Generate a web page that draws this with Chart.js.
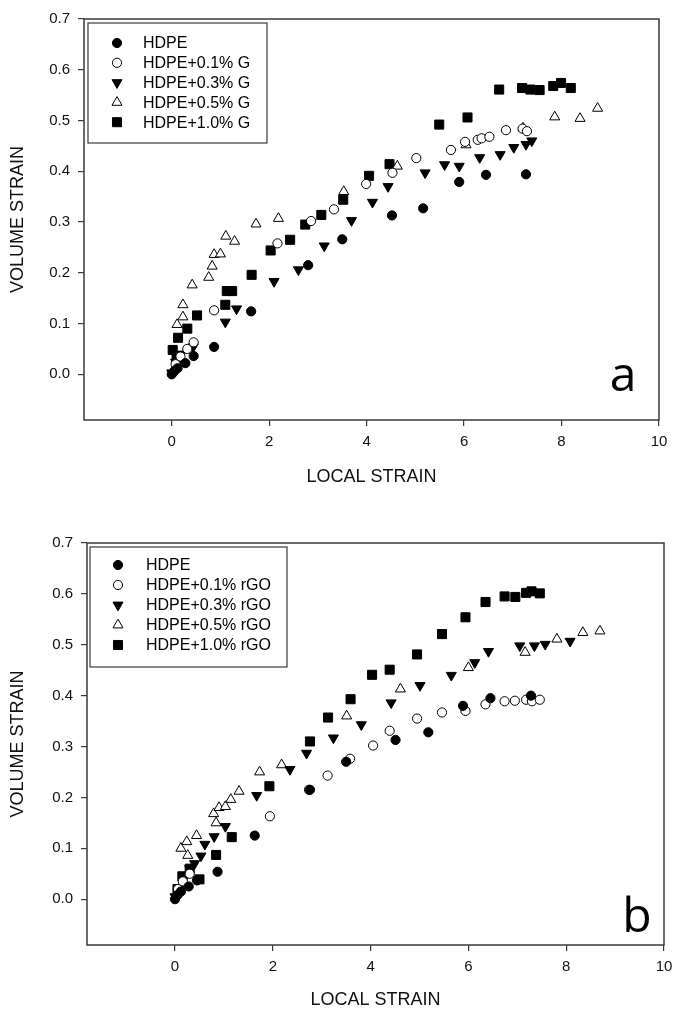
<!DOCTYPE html>
<html><head><meta charset="utf-8">
<script src="https://cdn.jsdelivr.net/npm/chart.js@4.4.1/dist/chart.umd.min.js"></script>
<style>html,body{margin:0;padding:0;background:#fff;}canvas{display:block;}</style>
</head><body>
<canvas id="ca" width="681" height="505"></canvas>
<canvas id="cb" width="681" height="506"></canvas>
<script>
// ---------- DATA ----------
const xTicks = [0, 2, 4, 6, 8, 10];
const yTicks = [0.0, 0.1, 0.2, 0.3, 0.4, 0.5, 0.6, 0.7];

const labelsA = ['HDPE', 'HDPE+0.1% G', 'HDPE+0.3% G', 'HDPE+0.5% G', 'HDPE+1.0% G'];
const labelsB = ['HDPE', 'HDPE+0.1% rGO', 'HDPE+0.3% rGO', 'HDPE+0.5% rGO', 'HDPE+1.0% rGO'];

// Panel a
const aHdpeX = [0, 0.05, 0.12, 0.28, 0.45, 0.87, 1.63, 2.8, 3.5, 4.52, 5.16, 5.9, 6.45, 7.27];
const aHdpeY = [0, 0.006, 0.012, 0.022, 0.036, 0.054, 0.124, 0.215, 0.266, 0.313, 0.327, 0.379, 0.393, 0.394];
const aG01X = [0.08, 0.18, 0.32, 0.45, 0.87, 2.17, 2.86, 3.33, 3.99, 4.53, 5.02, 5.73, 6.02, 6.28, 6.36, 6.52, 6.86, 7.2, 7.29];
const aG01Y = [0.02, 0.035, 0.05, 0.063, 0.126, 0.258, 0.302, 0.325, 0.375, 0.397, 0.426, 0.442, 0.458, 0.462, 0.465, 0.468, 0.481, 0.484, 0.479];
const aG03X = [0, 0.08, 0.2, 0.44, 1.1, 1.33, 2.1, 2.6, 3.13, 3.69, 4.12, 4.44, 5.2, 5.6, 5.9, 6.32, 6.74, 7.02, 7.27, 7.39];
const aG03Y = [0.003, 0.024, 0.04, 0.054, 0.103, 0.129, 0.183, 0.206, 0.253, 0.303, 0.339, 0.37, 0.397, 0.413, 0.41, 0.427, 0.433, 0.447, 0.453, 0.46];
const aG05X = [0.11, 0.23, 0.23, 0.42, 0.76, 0.83, 0.87, 1.0, 1.11, 1.29, 1.73, 2.19, 3.53, 4.63, 6.04, 7.21, 7.86, 8.38, 8.74];
const aG05Y = [0.098, 0.113, 0.137, 0.176, 0.191, 0.213, 0.236, 0.237, 0.272, 0.262, 0.296, 0.307, 0.36, 0.41, 0.452, 0.485, 0.507, 0.504, 0.524];
const aG10X = [0.02, 0.1, 0.13, 0.32, 0.52, 1.1, 1.13, 1.24, 1.64, 2.03, 2.43, 2.74, 3.07, 3.52, 4.05, 4.47, 5.49, 6.07, 6.72, 7.19, 7.36, 7.55, 7.83, 7.99, 8.19];
const aG10Y = [0.048, 0.03, 0.072, 0.09, 0.116, 0.137, 0.164, 0.164, 0.196, 0.244, 0.265, 0.295, 0.314, 0.344, 0.391, 0.414, 0.492, 0.506, 0.561, 0.564, 0.561, 0.56, 0.568, 0.574, 0.564];

// Panel b
const bHdpeX = [0, 0.05, 0.12, 0.28, 0.45, 0.87, 1.63, 2.76, 3.5, 4.51, 5.18, 5.89, 6.45, 7.28];
const bHdpeY = [0, 0.008, 0.015, 0.025, 0.037, 0.054, 0.125, 0.215, 0.27, 0.313, 0.328, 0.38, 0.395, 0.4];
const bR01X = [0.06, 0.16, 0.3, 1.94, 2.74, 3.12, 3.58, 4.05, 4.39, 4.95, 5.46, 5.94, 6.35, 6.74, 6.95, 7.18, 7.3, 7.46];
const bR01Y = [0.02, 0.035, 0.05, 0.163, 0.215, 0.243, 0.276, 0.302, 0.331, 0.355, 0.367, 0.37, 0.383, 0.389, 0.39, 0.392, 0.389, 0.392];
const bR03X = [0, 0.08, 0.18, 0.3, 0.4, 0.53, 0.61, 0.8, 1.03, 1.67, 2.35, 2.69, 3.24, 3.81, 4.42, 5.01, 5.65, 6.13, 6.41, 7.05, 7.35, 7.57, 8.08];
const bR03Y = [0.005, 0.02, 0.04, 0.06, 0.07, 0.085, 0.108, 0.123, 0.143, 0.204, 0.255, 0.287, 0.317, 0.343, 0.386, 0.42, 0.44, 0.465, 0.487, 0.498, 0.498, 0.501, 0.507];
const bR05X = [0.12, 0.24, 0.26, 0.44, 0.79, 0.84, 0.9, 1.03, 1.14, 1.31, 1.73, 2.18, 3.51, 4.61, 6.0, 7.16, 7.81, 8.34, 8.69];
const bR05Y = [0.1, 0.113, 0.086, 0.125, 0.168, 0.15, 0.18, 0.182, 0.196, 0.212, 0.25, 0.264, 0.36, 0.413, 0.455, 0.485, 0.511, 0.524, 0.527];
const bR10X = [0.05, 0.15, 0.3, 0.5, 0.84, 1.16, 1.93, 2.76, 3.13, 3.59, 4.03, 4.39, 4.95, 5.46, 5.94, 6.35, 6.74, 6.96, 7.18, 7.29, 7.46];
const bR10Y = [0.02, 0.045, 0.06, 0.039, 0.087, 0.122, 0.222, 0.31, 0.357, 0.393, 0.441, 0.451, 0.481, 0.521, 0.554, 0.584, 0.595, 0.594, 0.602, 0.605, 0.601];

// ---------- STYLE ----------
const FONT = '"Liberation Sans", Arial, sans-serif';
const AXC = '#3a3a3a';
const markers = [
  {pointStyle: 'circle',   radius: 4.6, bg: '#000', rot: 0},
  {pointStyle: 'circle',   radius: 4.6, bg: '#fff', rot: 0},
  {pointStyle: 'triangle', radius: 5.8, bg: '#000', rot: 180},
  {pointStyle: 'triangle', radius: 5.8, bg: '#fff', rot: 0},
  {pointStyle: 'rect',     radius: 6.4, bg: '#000', rot: 0}
];

function pts(xs, ys) { return xs.map((x, i) => ({x: x, y: ys[i]})); }

function makeDatasets(labels, series) {
  return series.map((s, i) => ({
    label: labels[i],
    data: pts(s[0], s[1]),
    pointStyle: markers[i].pointStyle,
    pointRadius: markers[i].radius,
    pointRotation: markers[i].rot,
    pointBackgroundColor: markers[i].bg,
    pointBorderColor: '#000',
    pointBorderWidth: 1,
    showLine: false
  }));
}

function drawMarker(ctx, m, x, y) {
  ctx.save();
  ctx.fillStyle = m.bg; ctx.strokeStyle = '#000'; ctx.lineWidth = 1;
  Chart.helpers.drawPoint(ctx, {pointStyle: m.pointStyle, rotation: m.rot, radius: m.radius, borderWidth: 1}, x, y);
  ctx.restore();
}

function panelPlugin(cfg) {
  return {
    id: 'panel' + cfg.letter,
    beforeDatasetsDraw(chart) {
      const a = chart.chartArea, ctx = chart.ctx;
      ctx.save();
      ctx.strokeStyle = AXC; ctx.lineWidth = 1.5;
      ctx.strokeRect(a.left, a.top, a.right - a.left, a.bottom - a.top);
      ctx.restore();
    },
    afterDraw(chart) {
      const ctx = chart.ctx, L = cfg.legend;
      ctx.save();
      ctx.fillStyle = '#fff';
      ctx.fillRect(L.left, L.top, L.right - L.left, L.bottom - L.top);
      ctx.strokeStyle = AXC; ctx.lineWidth = 1.2;
      ctx.strokeRect(L.left, L.top, L.right - L.left, L.bottom - L.top);
      ctx.font = '16px ' + FONT;
      ctx.textBaseline = 'middle';
      ctx.textAlign = 'left';
      cfg.labels.forEach((lab, i) => {
        const y = L.y0 + i * L.dy;
        drawMarker(ctx, markers[i], L.mx, y);
        ctx.fillStyle = '#000';
        ctx.fillText(lab, L.tx, y + 1);
      });
      ctx.font = '48px "Open Sans", sans-serif';
      ctx.textAlign = 'center';
      ctx.textBaseline = 'alphabetic';
      ctx.fillStyle = '#000';
      ctx.fillText(cfg.letter, cfg.letterX, cfg.letterY);
      ctx.restore();
    }
  };
}

function makeChart(id, labels, series, cfg) {
  return new Chart(document.getElementById(id), {
    type: 'scatter',
    data: {datasets: makeDatasets(labels, series)},
    options: {
      responsive: false,
      animation: false,
      events: [],
      layout: {padding: {left: 0, top: cfg.padTop, right: cfg.padRight, bottom: 0}},
      plugins: {legend: {display: false}, tooltip: {enabled: false}},
      scales: {
        x: {
          type: 'linear', min: -1.8, max: 10,
          afterBuildTicks: s => { s.ticks = xTicks.map(v => ({value: v})); },
          afterFit: s => { s.height = cfg.xHeight; },
          grid: {display: true, drawOnChartArea: false, drawTicks: true, tickLength: 6, color: AXC, lineWidth: 1.2},
          border: {display: false},
          ticks: {padding: 7, color: '#111', font: {family: FONT, size: 15}, callback: v => String(v), maxRotation: 0},
          title: {display: true, text: 'LOCAL STRAIN', color: '#111', font: {family: FONT, size: 18}, padding: {top: 0, bottom: cfg.xTitlePad}}
        },
        y: {
          type: 'linear', min: -0.09, max: 0.7,
          afterBuildTicks: s => { s.ticks = yTicks.map(v => ({value: v})); },
          afterFit: s => { s.width = cfg.yWidth; },
          grid: {display: true, drawOnChartArea: false, drawTicks: true, tickLength: 6, color: AXC, lineWidth: 1.2},
          border: {display: false},
          ticks: {padding: 8, color: '#111', font: {family: FONT, size: 15}, callback: v => Number(v).toFixed(1)},
          title: {display: true, text: 'VOLUME STRAIN', color: '#111', font: {family: FONT, size: 18}, padding: {top: 7, bottom: 0}}
        }
      }
    },
    plugins: [panelPlugin(Object.assign({labels: labels}, cfg))]
  });
}

makeChart('ca', labelsA,
  [[aHdpeX, aHdpeY], [aG01X, aG01Y], [aG03X, aG03Y], [aG05X, aG05Y], [aG10X, aG10Y]],
  {letter: 'a', letterX: 623, letterY: 391, padTop: 19, padRight: 22, xHeight: 85, yWidth: 84, xTitlePad: 17,
   legend: {left: 88, top: 23, right: 267, bottom: 143, y0: 43, dy: 19.8, mx: 117, tx: 143}});

makeChart('cb', labelsB,
  [[bHdpeX, bHdpeY], [bR01X, bR01Y], [bR03X, bR03Y], [bR05X, bR05Y], [bR10X, bR10Y]],
  {letter: 'b', letterX: 637, letterY: 427, padTop: 38, padRight: 17, xHeight: 66, yWidth: 87, xTitlePad: 0,
   legend: {left: 90, top: 42, right: 287, bottom: 162, y0: 60, dy: 20, mx: 118, tx: 146}});
</script>
</body></html>
